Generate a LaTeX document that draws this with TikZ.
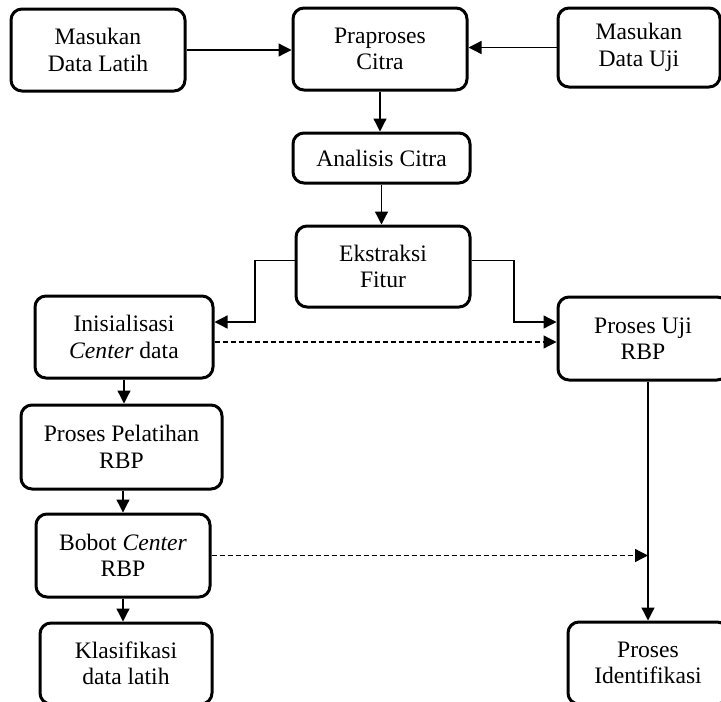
\documentclass[tikz,border=0pt]{standalone}
\usepackage{fontspec}
\setmainfont{Liberation Serif}
\usetikzlibrary{arrows.meta}
\begin{document}
\begin{tikzpicture}[x=1pt,y=-1pt,
  box/.style={draw, line width=3pt, rounded corners=11pt, align=center,
    font=\fontsize{23.6}{26.5}\selectfont, inner sep=0pt},
  conn/.style={line width=1.3pt, -{Triangle[length=13pt,width=13pt]}},
  dconn/.style={conn, dash pattern=on 5pt off 3pt}]
\useasboundingbox (0,0) rectangle (721,702);
\clip (0,0) rectangle (721,702);
\node[box, minimum width=174pt, minimum height=82pt] (latih) at (98,50) {Masukan\\Data Latih};
\node[box, minimum width=174pt, minimum height=82pt] (prap) at (380,49) {Praproses\\Citra};
\node[box, minimum width=162pt, minimum height=79pt] (uji) at (639,47.5) {Masukan\\Data Uji};
\node[box, minimum width=177pt, minimum height=50pt] (anal) at (381.5,158) {Analisis Citra};
\node[box, minimum width=174pt, minimum height=81pt] (ekst) at (383,266.5) {Ekstraksi\\Fitur};
\node[box, minimum width=178pt, minimum height=82pt] (init) at (124,337) {Inisialisasi\\\textit{Center} data};
\node[box, minimum width=170pt, minimum height=83pt] (ujirbp) at (643,338.5) {Proses Uji\\RBP};
\node[box, minimum width=201pt, minimum height=84pt] (pel) at (121.5,447) {Proses Pelatihan\\RBP};
\node[box, minimum width=174pt, minimum height=83pt] (bobot) at (123,555.5) {Bobot \textit{Center}\\RBP};
\node[box, minimum width=172pt, minimum height=81pt] (klas) at (126,663.5) {Klasifikasi\\data latih};
\node[box, minimum width=160pt, minimum height=82pt] (ident) at (648,663) {Proses\\Identifikasi};

\draw[conn] (latih.east) -- (latih.east -| prap.west);
\draw[conn] (uji.west) -- (uji.west -| prap.east);
\draw[conn] (prap.south) -- (prap.south |- anal.north);
\draw[conn] (anal.south) -- (anal.south |- ekst.north);
\coordinate (e1) at (255,322);
\coordinate (e2) at (514,322);
\draw[conn] ([yshift=6pt]ekst.west) -| (e1) -- (e1 -| init.east);
\draw[conn] ([yshift=6pt]ekst.east) -| (e2) -- (e2 -| ujirbp.west);
\coordinate (d1) at ([yshift=-5pt]init.east);
\draw[dconn] (d1) -- (d1 -| ujirbp.west);
\draw[conn] (init.south) -- (init.south |- pel.north);
\draw[conn] (bobot.north |- pel.south) -- (bobot.north);
\draw[conn] (bobot.south) -- (bobot.south |- klas.north);
\draw[conn] (ident.north |- ujirbp.south) -- (ident.north);
\draw[dconn] (bobot.east) -- (bobot.east -| ident.north);
\end{tikzpicture}
\end{document}
